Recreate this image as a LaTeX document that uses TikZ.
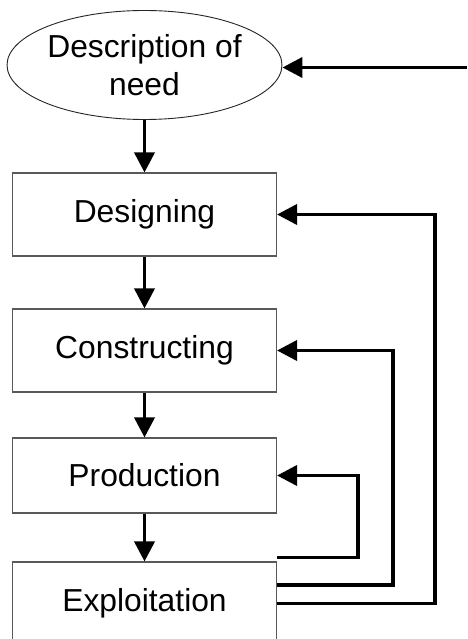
\documentclass[tikz,border=0pt]{standalone}
\usepackage{fontspec}
\setmainfont{Liberation Sans}
\usetikzlibrary{arrows.meta,shapes.geometric}
\begin{document}
\begin{tikzpicture}[x=1pt,y=-1pt,
  txt/.style={font=\fontsize{31.8}{38}\selectfont, align=center, text=black},
  stepbox/.style={txt, draw=black!65, line width=1.1pt, rectangle, minimum width=264pt, inner sep=0pt},
  needell/.style={txt, draw=black!85, line width=0.9pt, ellipse, minimum width=265pt, minimum height=109pt, inner sep=0pt},
  flow/.style={line width=3.7pt, -{Triangle[length=20pt,width=20pt]}}
]
\clip (0,0) rectangle (467,639);
\fill[white] (0,0) rectangle (467,639);
\node[needell] (need) at (144.5,65) {Description of\\need};
\node[stepbox, minimum height=83pt] (des) at (144.5,214.5) {Designing};
\node[stepbox, minimum height=83pt] (con) at (144.5,350.5) {Constructing};
\node[stepbox, minimum height=75pt] (pro) at (144.5,475.5) {Production};
\node[stepbox, minimum height=83pt] (exp) at (144.5,603.5) {Exploitation};
\coordinate (in) at (467,67.5);
\coordinate (xp) at (357.7,0);
\coordinate (xc) at (393.3,0);
\coordinate (xd) at (435,0);
\coordinate (sp) at ([yshift=4pt]exp.north east);
\coordinate (sc) at ([yshift=18.5pt]exp.east);
\coordinate (sd) at (exp.east);
\draw[flow] (need.south) -- (des.north);
\draw[flow] (des.south) -- (con.north);
\draw[flow] (con.south) -- (pro.north);
\draw[flow] (pro.south) -- (exp.north);
\draw[flow] (in) -- (in -| need.east);
\draw[flow] (sp) -- (sp -| xp) -- (xp |- pro.east) -- (pro.east);
\draw[flow] (sc) -- (sc -| xc) -- (xc |- con.east) -- (con.east);
\draw[flow] (sd) -- (sd -| xd) -- (xd |- des.east) -- (des.east);
\end{tikzpicture}
\end{document}
